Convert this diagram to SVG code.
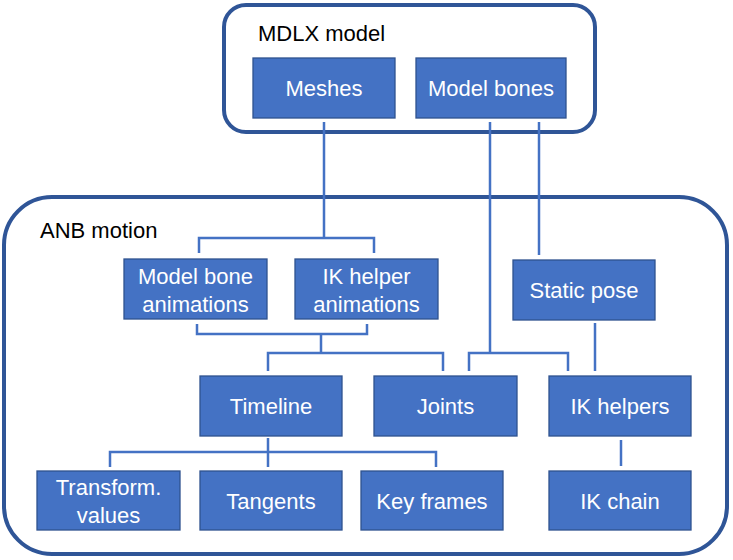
<svg xmlns="http://www.w3.org/2000/svg" width="733" height="560" viewBox="0 0 733 560">
<style>
.container{fill:#fff;stroke:#2F5597;stroke-width:4}
.box{fill:#4472C4;stroke:#2F528F;stroke-width:1.3}
.lbl{font-family:"Liberation Sans",Arial,sans-serif;font-size:22px;fill:#fff;text-anchor:middle}
.title{font-family:"Liberation Sans",Arial,sans-serif;font-size:22px;fill:#000}
.conn{fill:none;stroke:#4472C4;stroke-width:2.5}
</style>
<rect width="733" height="560" fill="#fff"/>
<g id="anb-motion">
<rect class="container" x="4" y="197" width="723" height="357" rx="48" ry="48"/>
<text class="title" x="40" y="238">ANB motion</text>
</g>
<g id="mdlx-model">
<rect class="container" x="224" y="5" width="371" height="127" rx="22" ry="22"/>
<text class="title" x="258" y="41">MDLX model</text>
</g>
<g id="connectors">
<path class="conn" d="M324,122 V238 M199,253 V238 H374 V253"/>
<path class="conn" d="M490,122 V353 M469,371 V353 H568 V371"/>
<path class="conn" d="M539,122 V255"/>
<path class="conn" d="M197,324 V334 H367 V324 M321,334 V353 M268,371 V353 H443 V371"/>
<path class="conn" d="M595,323 V371"/>
<path class="conn" d="M268,438 V467 M110,467 V452 H436 V467"/>
<path class="conn" d="M621,440 V466"/>
</g>
<g id="meshes">
<rect class="box" x="253" y="58" width="142" height="60"/>
<text class="lbl" x="324" y="96">Meshes</text>
</g>
<g id="model-bones">
<rect class="box" x="416" y="58" width="150" height="60"/>
<text class="lbl" x="491" y="96">Model bones</text>
</g>
<g id="model-bone-animations">
<rect class="box" x="124" y="259" width="143" height="60"/>
<text class="lbl" x="195.5" y="284">Model bone</text>
<text class="lbl" x="195.5" y="312">animations</text>
</g>
<g id="ik-helper-animations">
<rect class="box" x="295" y="259" width="143" height="60"/>
<text class="lbl" x="366.5" y="284">IK helper</text>
<text class="lbl" x="366.5" y="312">animations</text>
</g>
<g id="static-pose">
<rect class="box" x="513" y="260" width="142" height="60"/>
<text class="lbl" x="584" y="298">Static pose</text>
</g>
<g id="timeline">
<rect class="box" x="200" y="376" width="142" height="60"/>
<text class="lbl" x="271" y="414">Timeline</text>
</g>
<g id="joints">
<rect class="box" x="374" y="376" width="143" height="60"/>
<text class="lbl" x="445.5" y="414">Joints</text>
</g>
<g id="ik-helpers">
<rect class="box" x="549" y="376" width="142" height="60"/>
<text class="lbl" x="620" y="414">IK helpers</text>
</g>
<g id="transform-values">
<rect class="box" x="37" y="471" width="143" height="59"/>
<text class="lbl" x="108.5" y="495">Transform.</text>
<text class="lbl" x="108.5" y="523">values</text>
</g>
<g id="tangents">
<rect class="box" x="200" y="471" width="142" height="59"/>
<text class="lbl" x="271" y="508.5">Tangents</text>
</g>
<g id="key-frames">
<rect class="box" x="361" y="471" width="142" height="59"/>
<text class="lbl" x="432" y="508.5">Key frames</text>
</g>
<g id="ik-chain">
<rect class="box" x="549" y="471" width="142" height="59"/>
<text class="lbl" x="620" y="508.5">IK chain</text>
</g>
</svg>
